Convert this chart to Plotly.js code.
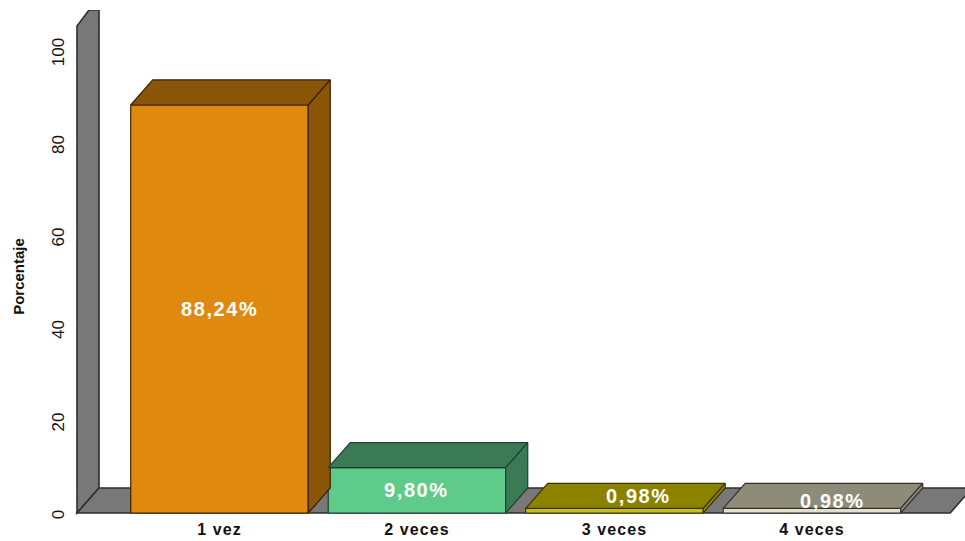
<!DOCTYPE html>
<html><head><meta charset="utf-8">
<script src="https://cdn.plot.ly/plotly-3.0.1.min.js"></script>
<style>
html,body{margin:0;padding:0;background:#fff;overflow:hidden}
#chart{width:965px;height:541px}
.xtick text{letter-spacing:1.1px}
.annotation-text{letter-spacing:1.6px}
</style></head><body><div id="chart"></div>
<script>
const categories = ['1 vez','2 veces','3 veces','4 veces'];
const values = [88.24, 9.80, 0.98, 0.98];
const valueLabels = ['88,24%','9,80%','0,98%','0,98%'];
const frontColors = ['#E0890F','#5FCB8A','#C9BE18','#E2DFCC'];
const depthColors = ['#8B5507','#3A7B55','#8B8300','#8E8B79'];
const edgeColors  = ['#3A2004','#1F3F2C','#3A3600','#33322A'];
const yTicks = [0,20,40,60,80,100];

const barWidth = 0.899, depthX = 0.1114, depthY = 5.41;
const wallLeft = -0.7215, floorRight = 3.7;
const wallTop = 105.3, yMax = 108.78;
const labelShiftX = [0,0,24,21], labelShiftY = [0,0,-15,-10];

const traces = [];
traces.push({type:'bar', x:categories.map((_,i)=>i), y:values, width:barWidth,
  marker:{color:frontColors, line:{color:edgeColors, width:1.2}}, hoverinfo:'skip', showlegend:false});
values.forEach((v,i)=>{
  const l=i-barWidth/2, r=i+barWidth/2;
  const poly=(xs,ys)=>({type:'scatter',mode:'lines',x:xs,y:ys,fill:'toself',fillcolor:depthColors[i],
    line:{color:edgeColors[i],width:1.2},hoverinfo:'skip',showlegend:false,cliponaxis:false});
  traces.push(poly([l,r,r+depthX,l+depthX,l],[v,v,v+depthY,v+depthY,v]));
  traces.push(poly([r,r+depthX,r+depthX,r,r],[0,depthY,v+depthY,v,0]));
});

function path(pts){return 'M'+pts.map(p=>p[0]+','+p[1]).join('L')+'Z';}
const wallTopBack = wallLeft+depthX*12/22;
const shapeStyle = {type:'path',xref:'x',yref:'y',layer:'below',fillcolor:'#787878',line:{color:'#2E2E2E',width:1.6}};
const shapes = [
  Object.assign({},shapeStyle,{path:path([[wallLeft,0],[wallLeft,wallTop],[wallTopBack,yMax],[wallLeft+depthX,yMax],[wallLeft+depthX,depthY]])}),
  Object.assign({},shapeStyle,{path:path([[wallLeft,0],[wallLeft+depthX,depthY],[floorRight+depthX,depthY],[floorRight,0]])})
];

const annotations = values.map((v,i)=>({
  x:i, y:v/2, text:valueLabels[i], showarrow:false, xshift:labelShiftX[i], yshift:-labelShiftY[i],
  font:{family:'Liberation Sans',size:20,color:'#FFFFFF',weight:700}
}));

const layout = {
  width:965,height:541,margin:{l:70,r:0,t:10,b:24,pad:0},
  paper_bgcolor:'#FFFFFF',plot_bgcolor:'#FFFFFF',showlegend:false,
  xaxis:{range:[-0.757,3.775],tickmode:'array',tickvals:categories.map((_,i)=>i),ticktext:categories,
    showgrid:false,zeroline:false,showline:false,ticks:'',ticklabelstandoff:1,
    tickfont:{family:'Liberation Sans',size:16,color:'#111111',weight:700}},
  yaxis:{range:[-0.865,yMax],tickmode:'array',tickvals:yTicks,ticktext:yTicks.map(String),tickangle:-90,
    showgrid:false,zeroline:false,showline:false,ticks:'',ticklabelstandoff:2,ticklabelshift:4,
    tickfont:{family:'Liberation Sans',size:17,color:'#111111'},
    title:{text:'Porcentaje',standoff:20,font:{family:'Liberation Sans',size:15,color:'#111111',weight:700}}},
  shapes, annotations, bargap:0
};
Plotly.newPlot('chart',traces,layout,{displayModeBar:false,staticPlot:true}).then(()=>{
  const t=document.querySelector('.ytitle');
  if(t){t.setAttribute('transform','translate(0,13) '+(t.getAttribute('transform')||''));}
});
</script></body></html>
